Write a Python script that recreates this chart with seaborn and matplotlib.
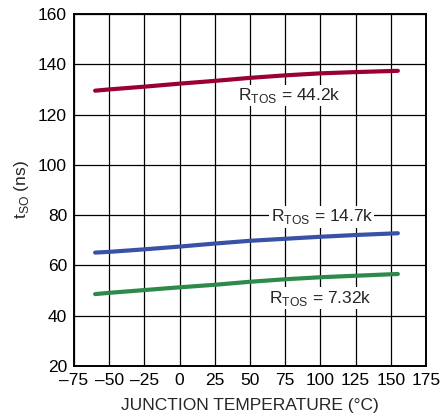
import seaborn as sns
import pandas as pd
import matplotlib.pyplot as plt

temp = [-60, -50, -25, 0, 25, 50, 75, 100, 125, 155]
t_442 = [129.5, 130.0, 131.1, 132.3, 133.4, 134.6, 135.6, 136.4, 136.9, 137.4]
t_147 = [65.1, 65.4, 66.4, 67.5, 68.7, 69.8, 70.6, 71.4, 72.1, 72.8]
t_732 = [48.6, 49.1, 50.2, 51.3, 52.3, 53.5, 54.5, 55.3, 55.9, 56.6]
labels = ['44.2k', '14.7k', '7.32k']
colors = ['#9a0036', '#3a52a5', '#2e8a4a']

n = len(temp)
df = pd.DataFrame({'temp': temp * 3,
                   'tso': t_442 + t_147 + t_732,
                   'rtos': [labels[0]] * n + [labels[1]] * n + [labels[2]] * n})

sns.set_theme(style='white')
plt.rcParams['font.family'] = ['Liberation Sans', 'DejaVu Sans']

fig = plt.figure(figsize=(4.41, 4.17), dpi=100)
ax = fig.add_axes([74 / 441, 1 - 366 / 417, 352 / 441, 352 / 417])
sns.lineplot(data=df, x='temp', y='tso', hue='rtos', palette=colors,
             linewidth=3, legend=False, ax=ax)

ax.set_xlim(-75, 175)
ax.set_ylim(20, 160)
ax.set_xticks(range(-75, 176, 25))
ax.set_xticklabels([str(v).replace('-', '\u2013') for v in range(-75, 176, 25)])
ax.set_yticks(range(20, 161, 20))
ax.grid(True, color='black', linewidth=0.9)
ax.set_axisbelow(True)
for s in ax.spines.values():
    s.set_color('black')
    s.set_linewidth(1.4)
ax.tick_params(length=0, labelsize=12.5, pad=5, colors='black')
ax.set_xlabel('JUNCTION TEMPERATURE (°C)', fontsize=12.5, labelpad=7)
ax.set_ylabel('t$_{\\mathregular{SO}}$ (ns)', fontsize=12.5, labelpad=5)

box = dict(facecolor='white', edgecolor='none', pad=1)
pos = [(78, 127.6), (101, 79.4), (100, 47)]
for (x, y), lab in zip(pos, labels):
    ax.text(x, y, 'R$_{\\mathregular{TOS}}$ = ' + lab, fontsize=12.5,
            ha='center', va='center', bbox=box)

plt.savefig('out.png', dpi=100)
